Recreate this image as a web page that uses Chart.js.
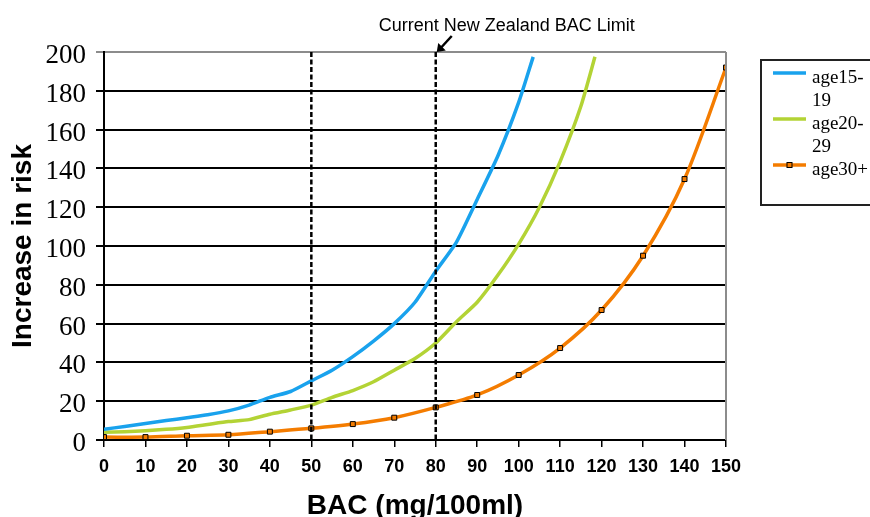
<!DOCTYPE html>
<html>
<head>
<meta charset="utf-8">
<script src="https://cdn.jsdelivr.net/npm/chart.js@4.4.1/dist/chart.umd.min.js"></script>
<style>
  html, body { margin: 0; padding: 0; background: #fff; }
  #wrap { width: 870px; height: 517px; position: relative; }
</style>
</head>
<body>
<div id="wrap"><canvas id="riskChart"></canvas></div>
<script>
  // BAC values (mg/100ml) and relative increase in crash risk per age group
  var youngBac = [0, 5, 10, 15, 20, 25, 30, 35, 40, 45, 50, 55, 60, 65, 70, 75, 80, 85, 90, 95, 100, 103.5];
  var youngRisk = [5.5, 7, 8.5, 10, 11.5, 13, 15, 18, 22, 25, 30.5, 36, 43, 51, 60, 71, 87, 102, 124, 146.5, 174, 197.5];

  var midBac = [0, 5, 10, 15, 20, 25, 30, 35, 40, 45, 50, 55, 60, 65, 70, 75, 80, 85, 90, 95, 100, 105, 110, 115, 118.4];
  var midRisk = [4, 4.3, 4.8, 5.5, 6.5, 8, 9.5, 10.5, 13.3, 15.5, 18, 22, 25.5, 30, 36, 42, 50, 61, 71, 85, 101, 120, 143.5, 172, 197.5];

  var olderBac = [0, 10, 20, 30, 40, 50, 60, 70, 80, 90, 100, 110, 120, 130, 140, 150];
  var olderRisk = [1.5, 1.5, 2.2, 2.7, 4.3, 6, 8.2, 11.5, 16.8, 23.2, 33.5, 47.4, 67, 95, 134.5, 192];

  var seriesLabels = ['age15-19', 'age20-29', 'age30+'];
  var limitLines = [50, 80];
  var limitText = 'Current New Zealand BAC Limit';

  function toPoints(xs, ys) {
    return xs.map(function (x, i) { return { x: x, y: ys[i] }; });
  }

  var colors = ['#19a2ed', '#b3d335', '#f47c00'];

  var extras = {
    id: 'extras',
    afterDatasetsDraw: function (chart) {
      var c = chart.ctx;
      var area = chart.chartArea;
      var xs = chart.scales.x;

      // right border of the plot
      c.save();
      c.strokeStyle = '#8c8c8c';
      c.lineWidth = 2;
      c.beginPath();
      c.moveTo(area.right, area.top);
      c.lineTo(area.right, area.bottom);
      c.stroke();

      // dashed reference lines
      c.strokeStyle = '#000';
      c.lineWidth = 2.5;
      c.setLineDash([5, 2.5]);
      limitLines.forEach(function (v) {
        var px = xs.getPixelForValue(v);
        c.beginPath();
        c.moveTo(px, area.top);
        c.lineTo(px, area.bottom);
        c.stroke();
      });
      c.setLineDash([]);

      // annotation with arrow pointing to the current limit
      var lx = xs.getPixelForValue(limitLines[1]);
      c.fillStyle = '#000';
      c.font = '18px "Liberation Sans", Arial, sans-serif';
      c.textAlign = 'center';
      c.textBaseline = 'alphabetic';
      c.fillText(limitText, lx + 71, 31);

      var ax0 = lx + 16, ay0 = area.top - 16, ax1 = lx + 1, ay1 = area.top;
      c.lineWidth = 2.5;
      c.beginPath();
      c.moveTo(ax0, ay0);
      c.lineTo(ax1 + 4, ay1 - 4);
      c.stroke();
      c.beginPath();
      c.moveTo(ax1, ay1);
      c.lineTo(ax1 + 1.5, ay1 - 9);
      c.lineTo(ax1 + 9, ay1 - 1.5);
      c.closePath();
      c.fill();

      // legend box
      var bx = 761, by = 60, bw = 130, bh = 145;
      c.strokeStyle = '#222';
      c.lineWidth = 2;
      c.strokeRect(bx, by, bw, bh);

      c.font = '19px "Liberation Serif", "Times New Roman", serif';
      c.textAlign = 'left';
      var rows = [73, 119, 165];
      seriesLabels.forEach(function (label, i) {
        var y = rows[i];
        c.strokeStyle = colors[i];
        c.lineWidth = 3.5;
        c.beginPath();
        c.moveTo(773, y);
        c.lineTo(806, y);
        c.stroke();
        if (i === 2) {
          c.fillStyle = colors[i];
          c.fillRect(787, y - 2.5, 5, 5);
          c.strokeStyle = '#000';
          c.lineWidth = 1;
          c.strokeRect(787, y - 2.5, 5, 5);
        }
        c.fillStyle = '#000';
        var parts = label.split(/(?<=-)/);
        parts.forEach(function (p, j) {
          c.fillText(p, 812, y + 10 + j * 23);
        });
      });
      c.restore();
    }
  };

  new Chart(document.getElementById('riskChart'), {
    type: 'line',
    data: {
      datasets: [
        {
          label: seriesLabels[0],
          data: toPoints(youngBac, youngRisk),
          borderColor: colors[0],
          borderWidth: 3.5,
          pointRadius: 0,
          tension: 0.2,
          fill: false
        },
        {
          label: seriesLabels[1],
          data: toPoints(midBac, midRisk),
          borderColor: colors[1],
          borderWidth: 3.5,
          pointRadius: 0,
          tension: 0.2,
          fill: false
        },
        {
          label: seriesLabels[2],
          data: toPoints(olderBac, olderRisk),
          borderColor: colors[2],
          borderWidth: 3.5,
          pointStyle: 'rect',
          pointRadius: 3.5,
          pointBackgroundColor: colors[2],
          pointBorderColor: '#000',
          pointBorderWidth: 1,
          tension: 0.3,
          fill: false
        }
      ]
    },
    options: {
      responsive: true,
      maintainAspectRatio: false,
      animation: false,
      layout: {
        padding: { top: 52, right: 144, left: 0, bottom: 0 }
      },
      plugins: {
        legend: { display: false },
        tooltip: { enabled: false }
      },
      scales: {
        x: {
          type: 'linear',
          min: 0,
          max: 150,
          afterFit: function (scale) { scale.height = 77; },
          border: { color: '#000', width: 2 },
          grid: {
            drawOnChartArea: false,
            color: '#000',
            lineWidth: 1.5,
            tickLength: 7
          },
          ticks: {
            stepSize: 10,
            color: '#000',
            padding: 9,
            maxRotation: 0,
            font: { family: '"Liberation Sans Narrow", "Liberation Sans", Arial, sans-serif', size: 18, weight: 'bold' }
          },
          title: {
            display: true,
            text: 'BAC (mg/100ml)',
            color: '#000',
            padding: 0,
            font: { family: '"Liberation Sans", Arial, sans-serif', size: 28, weight: 'bold', lineHeight: 0.8 }
          }
        },
        y: {
          min: 0,
          max: 200,
          afterFit: function (scale) { scale.width = 104; },
          border: { color: '#000', width: 2 },
          grid: {
            color: function (ctx) { return ctx.tick && ctx.tick.value === 200 ? '#8c8c8c' : '#000'; },
            lineWidth: 2,
            tickLength: 8
          },
          ticks: {
            stepSize: 20,
            color: '#000',
            padding: 10,
            labelOffset: 4,
            font: { family: '"Liberation Serif", "Times New Roman", serif', size: 27 }
          },
          title: {
            display: true,
            text: 'Increase in risk',
            color: '#000',
            padding: { top: 12, bottom: 0 },
            font: { family: '"Liberation Sans", Arial, sans-serif', size: 28, weight: 'bold', lineHeight: 0.8 }
          }
        }
      }
    },
    plugins: [extras]
  });
</script>
</body>
</html>
